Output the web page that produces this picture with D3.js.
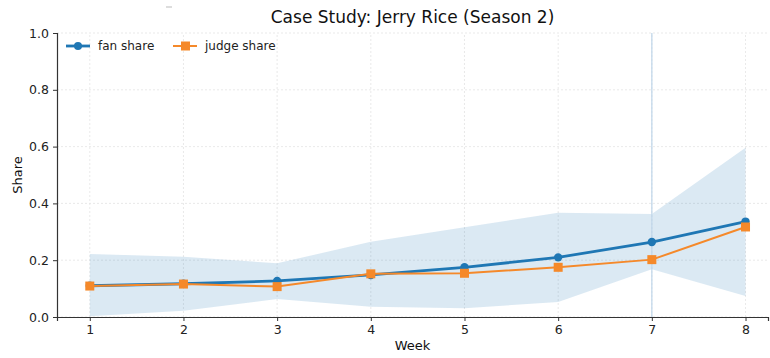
<!DOCTYPE html>
<html>
<head>
<meta charset="utf-8">
<script src="https://cdn.jsdelivr.net/npm/d3@7"></script>
<style>
  html, body { margin: 0; padding: 0; background: #fff; }
  svg { display: block; font-family: "DejaVu Sans", sans-serif; }
</style>
</head>
<body>
<svg id="chart" width="770" height="358"></svg>
<script>
// Weekly vote-share estimates for one contestant
const weeks = [1, 2, 3, 4, 5, 6, 7, 8];
const fanShare = [0.110, 0.117, 0.127, 0.148, 0.175, 0.210, 0.264, 0.336];
const judgeShare = [0.109, 0.116, 0.107, 0.152, 0.154, 0.175, 0.202, 0.317];
const bandLow = [0.003, 0.022, 0.063, 0.036, 0.031, 0.053, 0.168, 0.074];
const bandHigh = [0.222, 0.212, 0.189, 0.265, 0.316, 0.367, 0.363, 0.596];
const yTicks = [0.0, 0.2, 0.4, 0.6, 0.8, 1.0];
const markedWeek = 7;

const svg = d3.select("#chart");
const margin = { left: 57, right: 2, top: 33, bottom: 41 };
const W = 770, H = 358;

const x = d3.scaleLinear().domain([0.65, 8.24]).range([margin.left, W - margin.right]);
const y = d3.scaleLinear().domain([0, 1]).range([H - margin.bottom, margin.top]);

// grid
const grid = svg.append("g").attr("stroke", "#e3e3e3").attr("stroke-width", 0.8)
  .attr("stroke-dasharray", "2,2");
weeks.forEach(w => grid.append("line")
  .attr("x1", x(w)).attr("x2", x(w)).attr("y1", y(0)).attr("y2", y(1)));
yTicks.forEach(t => grid.append("line")
  .attr("x1", margin.left).attr("x2", W - margin.right).attr("y1", y(t)).attr("y2", y(t)));

// uncertainty band
const rows = weeks.map((w, i) => ({ w, lo: bandLow[i], hi: bandHigh[i], fan: fanShare[i], judge: judgeShare[i] }));
svg.append("path").datum(rows)
  .attr("fill", "#1f77b4").attr("fill-opacity", 0.16)
  .attr("d", d3.area().x(d => x(d.w)).y0(d => y(d.lo)).y1(d => y(d.hi)));

// marker for the elimination week
svg.append("line")
  .attr("x1", x(markedWeek)).attr("x2", x(markedWeek))
  .attr("y1", y(0)).attr("y2", y(1))
  .attr("stroke", "#c3d8ea").attr("stroke-width", 1.3);

// fan share line
svg.append("path").datum(rows)
  .attr("fill", "none").attr("stroke", "#1f77b4").attr("stroke-width", 2.8)
  .attr("d", d3.line().x(d => x(d.w)).y(d => y(d.fan)));
svg.append("g").selectAll("circle").data(rows).join("circle")
  .attr("cx", d => x(d.w)).attr("cy", d => y(d.fan)).attr("r", 4.2)
  .attr("fill", "#1f77b4");

// judge share line
const orange = "#f5892a";
svg.append("path").datum(rows)
  .attr("fill", "none").attr("stroke", orange).attr("stroke-width", 2)
  .attr("d", d3.line().x(d => x(d.w)).y(d => y(d.judge)));
svg.append("g").selectAll("rect").data(rows).join("rect")
  .attr("x", d => x(d.w) - 4.5).attr("y", d => y(d.judge) - 4.5)
  .attr("width", 9).attr("height", 9).attr("fill", orange);

// axes
const xAxis = svg.append("g").attr("transform", `translate(0,${y(0)})`)
  .call(d3.axisBottom(x).tickValues(weeks).tickFormat(d3.format("d")).tickSizeOuter(0).tickSize(4).tickPadding(4));
const yAxis = svg.append("g").attr("transform", `translate(${margin.left},0)`)
  .call(d3.axisLeft(y).tickValues(yTicks).tickFormat(d3.format(".1f")).tickSizeOuter(0).tickSize(4).tickPadding(4));
[xAxis, yAxis].forEach(a => {
  a.select(".domain").attr("stroke", "#333").attr("stroke-width", 1.2);
  a.selectAll(".tick line").attr("stroke", "#333");
  a.selectAll(".tick text").attr("fill", "#222").style("font-size", "12.5px").style("font-family", "DejaVu Sans");
});

// labels
svg.append("text").attr("x", (margin.left + W - margin.right) / 2).attr("y", 23)
  .attr("text-anchor", "middle").attr("fill", "#111").style("font-size", "17px")
  .text("Case Study: Jerry Rice (Season 2)");
svg.append("text").attr("x", (margin.left + W - margin.right) / 2).attr("y", 350)
  .attr("text-anchor", "middle").attr("fill", "#111").style("font-size", "13px").text("Week");
svg.append("text").attr("transform", `translate(22,${(y(0) + y(1)) / 2}) rotate(-90)`)
  .attr("text-anchor", "middle").attr("fill", "#111").style("font-size", "13px").text("Share");
svg.append("line").attr("x1", 166).attr("x2", 172).attr("y1", 7).attr("y2", 7)
  .attr("stroke", "#bbb").attr("stroke-width", 1);

// legend
const legend = svg.append("g").attr("transform", "translate(66,46)");
legend.append("line").attr("x1", 0).attr("x2", 24).attr("stroke", "#1f77b4").attr("stroke-width", 2.8);
legend.append("circle").attr("cx", 12).attr("r", 4).attr("fill", "#1f77b4");
legend.append("text").attr("x", 32).attr("y", 4).style("font-size", "12px").attr("fill", "#222").text("fan share");
legend.append("line").attr("x1", 107).attr("x2", 131).attr("stroke", orange).attr("stroke-width", 2);
legend.append("rect").attr("x", 115).attr("y", -4.5).attr("width", 9).attr("height", 9).attr("fill", orange);
legend.append("text").attr("x", 139).attr("y", 4).style("font-size", "12px").attr("fill", "#222").text("judge share");
</script>
</body>
</html>
